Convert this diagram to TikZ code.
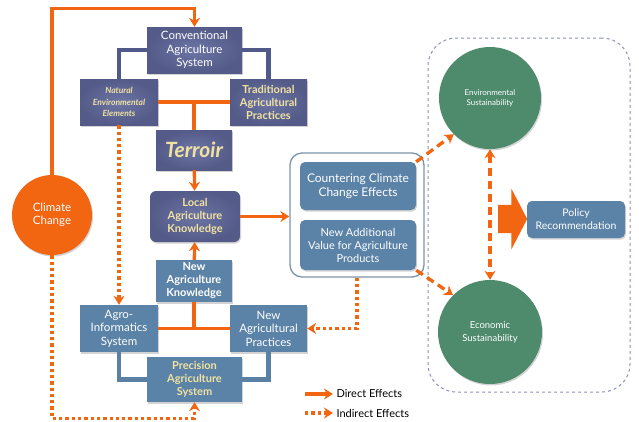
\documentclass[tikz,border=0pt]{standalone}
\usepackage{fontspec}
\setmainfont{Lato}
\usetikzlibrary{arrows.meta, positioning, shapes.arrows, shadows}
\definecolor{slate}{HTML}{5D6493}
\definecolor{slatelight}{HTML}{6C75A5}
\definecolor{slatedark}{HTML}{545B88}
\definecolor{steel}{HTML}{5B83A7}
\definecolor{sage}{HTML}{4E8A6C}
\definecolor{fire}{HTML}{F26511}
\definecolor{cream}{HTML}{F2E2A2}
\definecolor{linkblue}{HTML}{505987}
\definecolor{linksteel}{HTML}{5A80A3}
\definecolor{groupline}{HTML}{7D93AB}
\definecolor{regionline}{HTML}{8D90B8}

\tikzset{
  shade box/.style={drop shadow={shadow xshift=1pt, shadow yshift=-1.5pt, opacity=0.35}},
  slatebox/.style={shade box, inner color=slatelight, outer color=slatedark, text=white, align=center, inner sep=0pt},
  steelbox/.style={shade box, fill=steel, text=white, align=center, inner sep=0pt},
  roundbox/.style={steelbox, rounded corners=5pt},
  sagecircle/.style={shade box, circle, fill=sage, text=white, align=center, inner sep=0pt},
  boxfont/.style={font=\fontsize{11.5}{13.5}\selectfont},
  boldfont/.style={font=\bfseries\fontsize{11}{13}\selectfont},
  slatelink/.style={draw=linkblue, line width=4.5pt},
  steellink/.style={draw=linksteel, line width=4.5pt},
  strong/.style={draw=fire, line width=3.3pt},
  tip/.style={-{Stealth[length=9pt, width=11pt]}},
  direct/.style={strong, tip},
  indirect/.style={strong, dash pattern=on 3.3pt off 3pt, tip},
  dashdirect/.style={strong, dash pattern=on 8pt off 5pt}
}

\begin{document}
\begin{tikzpicture}[x=1pt, y=-1pt]
  \useasboundingbox (0,0) rectangle (639,421);

  % regions behind everything
  \node (region) [draw=regionline, dashed, line width=1pt, rounded corners=28pt,
    minimum width=202pt, minimum height=354pt] at (529,215) {};
  \node (group) [draw=groupline, line width=1.3pt, fill=white, rounded corners=12pt,
    minimum width=134pt, minimum height=124pt] at (357,215) {};

  % conventional side
  \node (conv) [slatebox, boxfont, minimum width=95pt, minimum height=46pt] at (194.5,50)
    {Conventional\\Agriculture\\System};
  \node (natural) [slatebox, text=cream, font=\bfseries\itshape\fontsize{8.5}{11.5}\selectfont,
    minimum width=78pt, minimum height=46pt] at (119,102) {Natural\\Environmental\\Elements};
  \node (trad) [slatebox, text=cream, boldfont, minimum width=77pt, minimum height=46pt] at (268.5,102)
    {Traditional\\Agricultural\\Practices};
  \node (terroir) [slatebox, text=cream, font=\bfseries\itshape\fontsize{21}{23}\selectfont,
    minimum width=76pt, minimum height=40pt] at (194,150) {Terroir};
  \node (local) [slatebox, rounded corners=6pt, text=cream, boldfont,
    minimum width=90pt, minimum height=51pt] at (195,216.5) {Local\\Agriculture\\Knowledge};

  % precision side
  \node (newknow) [steelbox, boldfont, minimum width=76pt, minimum height=42pt] at (194,281)
    {New\\Agriculture\\Knowledge};
  \node (agro) [steelbox, boxfont, minimum width=78pt, minimum height=47pt] at (119,328.5)
    {Agro-\\Informatics\\System};
  \node (newprac) [steelbox, boxfont, minimum width=77pt, minimum height=47pt] at (268.5,328.5)
    {New\\Agricultural\\Practices};
  \node (precision) [steelbox, text=cream, boldfont, minimum width=95pt, minimum height=45pt] at (194.5,379.5)
    {Precision\\Agriculture\\System};

  \node (climate) [shade box, circle, fill=fire, text=white, boxfont, align=center,
    minimum size=80pt, inner sep=0pt] at (52,215) {Climate\\Change};

  % effects
  \node (counter) [roundbox, font=\fontsize{12}{14}\selectfont, minimum width=116pt, minimum height=48pt]
    at (358,186) {Countering Climate\\Change Effects};
  \node (newvalue) [roundbox, font=\fontsize{11}{13}\selectfont, minimum width=116pt, minimum height=50pt]
    at (358,245) {New Additional\\Value for Agriculture\\Products};

  \node (envsus) [sagecircle, font=\fontsize{8}{10}\selectfont, minimum size=102pt] at (490,98)
    {Environmental\\Sustainability};
  \node (econ) [sagecircle, font=\fontsize{9.5}{13}\selectfont, minimum size=104pt] at (490,332)
    {Economic\\Sustainability};
  \node (bigarrow) [single arrow, fill=fire, inner xsep=0pt, inner ysep=14pt, minimum height=29pt,
    single arrow head extend=16pt, single arrow tip angle=125] at (509,219) {};
  \node (policy) [roundbox, font=\fontsize{10.5}{13}\selectfont, minimum width=98pt, minimum height=37pt]
    at (576,219.5) {Policy\\Recommendation};

  % links between boxes
  \draw[slatelink] (conv.west) -| (natural.north);
  \draw[slatelink] (conv.east) -| (trad.north);
  \draw[steellink] (agro.south) |- (precision.west);
  \draw[steellink] (newprac.south) |- (precision.east);

  \draw[strong] (natural) -- (trad);
  \draw[strong] (terroir.north) -- (terroir.north |- natural.east);
  \draw[strong] (agro) -- (newprac);
  \draw[strong] (newknow.south) -- (newknow.south |- agro.east);

  \draw[direct] (terroir) -- (local);
  \draw[direct] (newknow) -- (local);
  \draw[direct] (climate.north) |- ([yshift=18pt]conv.north) -- (conv.north);
  \draw[direct] (local.east) -- (local.east -| group.west);

  \draw[indirect] (climate.south) |- ([yshift=-16pt]precision.south) -- (precision.south);
  \draw[indirect] (natural.south) -- (agro.north);
  \draw[indirect] (group.south) |- (newprac.east);

  \draw[dashdirect, tip] (counter.north east) -- (envsus.south west);
  \draw[dashdirect, tip] (newvalue.south east) -- (econ.north west);
  \draw[dashdirect, {Stealth[length=9pt, width=11pt]}-{Stealth[length=9pt, width=11pt]}] (envsus) -- (econ);

  % legend
  \coordinate (ldirect) at (305,394);
  \coordinate (lindirect) at (305,413);
  \node (directlbl) [anchor=west, font=\fontsize{11}{13}\selectfont] at (333,394) {Direct Effects};
  \node (indirectlbl) [anchor=west, font=\fontsize{11}{13}\selectfont] at (333,413) {Indirect Effects};
  \draw[direct] (ldirect) -- (directlbl.west);
  \draw[indirect] (lindirect) -- (indirectlbl.west);
\end{tikzpicture}
\end{document}
